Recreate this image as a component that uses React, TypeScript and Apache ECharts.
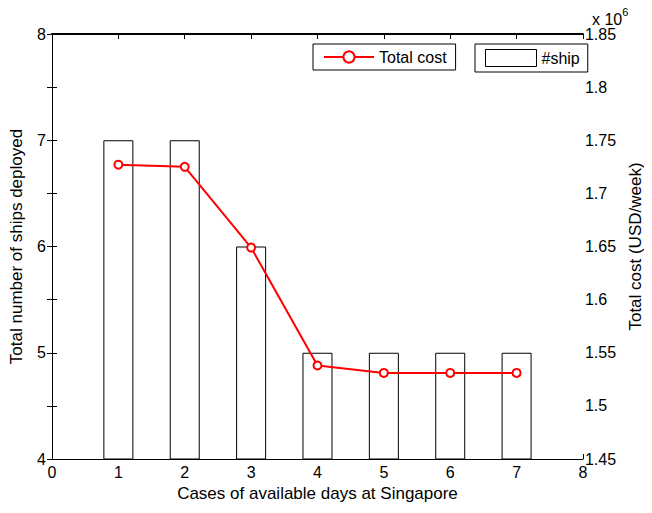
import React, { useEffect, useRef } from "react";
import * as echarts from "echarts";

const cases = [1, 2, 3, 4, 5, 6, 7];
const ships = [7, 7, 6, 5, 5, 5, 5];
const totalCost = [1727000, 1725000, 1649000, 1538000, 1531000, 1531000, 1531000];
const leftTicks = [4, 5, 6, 7, 8];

const FONT = "Liberation Sans, Arial, sans-serif";

export default function App() {
  const ref = useRef<HTMLDivElement>(null);
  useEffect(() => {
    if (!ref.current) return;
    const chart = echarts.init(ref.current, undefined, { renderer: "svg" });
    const barData = cases.map((c, i) => [c, ships[i]]);
    const lineData = cases.map((c, i) => [c, totalCost[i]]);
    chart.setOption({
      animation: false,
      backgroundColor: "#fff",
      textStyle: { fontFamily: FONT },
      grid: { left: 52, right: 60, top: 34, bottom: 54, containLabel: false },
      xAxis: [
        {
          type: "value",
          min: 0,
          max: 8,
          interval: 1,
          position: "bottom",
          name: "Cases of available days at Singapore",
          nameLocation: "middle",
          nameGap: 22,
          nameTextStyle: { fontSize: 17, color: "#000", fontFamily: FONT },
          axisLine: { show: true, lineStyle: { color: "#000", width: 1 } },
          axisTick: { show: true, inside: true, length: 5, lineStyle: { color: "#000" } },
          axisLabel: { fontSize: 16, color: "#000", margin: 5, fontFamily: FONT },
          splitLine: { show: false },
        },
        {
          type: "value",
          min: 0,
          max: 8,
          interval: 1,
          position: "top",
          axisLine: { show: true, lineStyle: { color: "#000", width: 2 } },
          axisTick: { show: true, inside: true, length: 5, lineStyle: { color: "#000" } },
          axisLabel: { show: false },
          splitLine: { show: false },
        },
      ],
      yAxis: [
        {
          type: "value",
          min: 4,
          max: 8,
          interval: 0.5,
          position: "left",
          name: "Total number of ships deployed",
          nameLocation: "middle",
          nameGap: 27,
          nameRotate: 90,
          nameTextStyle: { fontSize: 17, color: "#000", fontFamily: FONT },
          axisLine: { show: true, lineStyle: { color: "#000", width: 1 } },
          axisTick: { show: true, inside: true, length: 5, lineStyle: { color: "#000" } },
          axisLabel: {
            fontSize: 16,
            color: "#000",
            margin: 6,
            fontFamily: FONT,
            formatter: (v: number) => (leftTicks.includes(v) ? String(v) : ""),
          },
          splitLine: { show: false },
        },
        {
          type: "value",
          min: 1450000,
          max: 1850000,
          interval: 50000,
          position: "right",
          name: "Total cost (USD/week)",
          nameLocation: "middle",
          nameGap: 42,
          nameRotate: 90,
          nameTextStyle: { fontSize: 17, color: "#000", fontFamily: FONT },
          axisLine: { show: true, lineStyle: { color: "#000", width: 1 } },
          axisTick: { show: true, inside: true, length: 5, lineStyle: { color: "#000" } },
          axisLabel: {
            fontSize: 16,
            color: "#000",
            margin: 2,
            fontFamily: FONT,
            formatter: (v: number) => String(parseFloat((v / 1e6).toFixed(2))),
          },
          splitLine: { show: false },
        },
      ],
      legend: [
        {
          data: ["Total cost"],
          left: 313,
          top: 44,
          orient: "horizontal",
          itemWidth: 50,
          itemHeight: 14,
          padding: [5, 9, 5, 10],
          borderColor: "#000",
          borderWidth: 1,
          borderRadius: 0,
          backgroundColor: "#fff",
          selectedMode: false,
          textStyle: { fontSize: 16, color: "#000", fontFamily: FONT },
        },
        {
          data: [
            {
              name: "#ship",
              icon: "rect",
              itemStyle: { color: "#fff", borderColor: "#000", borderWidth: 1 },
            },
          ],
          left: 475,
          top: 44,
          itemWidth: 51,
          itemHeight: 17,
          padding: [5, 8, 5, 10],
          borderColor: "#000",
          borderWidth: 1,
          borderRadius: 0,
          backgroundColor: "#fff",
          selectedMode: false,
          textStyle: { fontSize: 16, color: "#000", fontFamily: FONT },
        },
      ],
      graphic: [
        {
          type: "text",
          left: 592,
          top: 6,
          style: {
            text: "{a|x 10}{b|6}",
            rich: {
              a: { fontSize: 16, fontFamily: FONT, fill: "#000", padding: [5, 0, 0, 0] },
              b: { fontSize: 11, fontFamily: FONT, fill: "#000", verticalAlign: "top" },
            },
          },
        },
      ],
      series: [
        {
          name: "#ship",
          type: "bar",
          xAxisIndex: 0,
          yAxisIndex: 0,
          data: barData,
          barWidth: 30,
          itemStyle: { color: "#fff", borderColor: "#000", borderWidth: 1 },
          z: 1,
        },
        {
          name: "Total cost",
          type: "line",
          xAxisIndex: 0,
          yAxisIndex: 1,
          data: lineData,
          symbol: "emptyCircle",
          symbolSize: 8,
          lineStyle: { color: "#f00", width: 2 },
          itemStyle: { color: "#f00", borderColor: "#f00", borderWidth: 1.5 },
          z: 3,
        },
      ],
    });
    return () => chart.dispose();
  }, []);
  return <div ref={ref} style={{ width: 652, height: 513, margin: -8 }} />;
}
